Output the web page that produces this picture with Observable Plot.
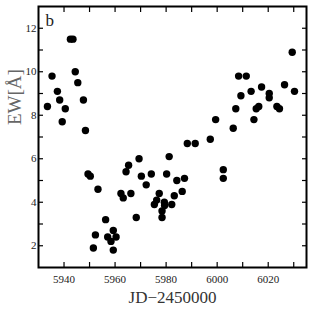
<!DOCTYPE html>
<html>
<head>
<meta charset="utf-8">
<script src="https://cdn.jsdelivr.net/npm/d3@7"></script>
<script src="https://cdn.jsdelivr.net/npm/@observablehq/plot@0.6"></script>
<style>
  html, body { margin: 0; padding: 0; background: #fff; }
  svg text { font-family: "Liberation Serif", "Times New Roman", Times, serif !important; }
</style>
</head>
<body>
<div id="chart"></div>
<script>
const jd = [5933.5, 5935.3, 5937.4, 5938.3, 5939.3, 5940.5, 5942.5, 5943.5, 5944.4, 5945.4,
  5947.6, 5948.4, 5949.4, 5950.3, 5951.5, 5952.3, 5953.3, 5956.3, 5957.1, 5958.4,
  5959.3, 5959.3, 5960.4, 5962.3, 5963.2, 5964.3, 5965.3, 5966.2, 5968.3, 5969.4,
  5970.3, 5972.2, 5974.2, 5975.4, 5976.3, 5977.3, 5978.4, 5978.4, 5979.3, 5979.4,
  5980.2, 5981.2, 5982.2, 5983.2, 5984.2, 5986.3, 5987.2, 5988.3, 5991.4, 5997.3,
  5999.4, 6002.4, 6002.4, 6006.3, 6007.3, 6008.4, 6009.3, 6011.4, 6013.3, 6014.4,
  6015.3, 6016.3, 6017.4, 6020.4, 6020.4, 6023.4, 6024.4, 6026.4, 6029.4, 6030.3];
const ew = [8.4, 9.8, 9.1, 8.7, 7.7, 8.3, 11.5, 11.5, 10.0, 9.5,
  8.7, 7.3, 5.3, 5.2, 1.9, 2.5, 4.6, 3.2, 2.4, 2.2,
  2.7, 1.8, 2.4, 4.4, 4.2, 5.4, 5.7, 4.4, 3.3, 6.0,
  5.2, 4.8, 5.3, 3.9, 4.1, 4.4, 3.6, 3.3, 4.0, 3.85,
  5.3, 6.1, 3.9, 4.3, 5.0, 4.5, 5.1, 6.7, 6.7, 6.9,
  7.8, 5.5, 5.1, 7.4, 8.3, 9.8, 8.9, 9.8, 9.1, 7.8,
  8.3, 8.4, 9.3, 9.0, 8.8, 8.4, 8.3, 9.4, 10.9, 9.1];
const xTicksMinor = [5930, 5940, 5950, 5960, 5970, 5980, 5990, 6000, 6010, 6020, 6030];
const xTickLabels = [5940, 5960, 5980, 6000, 6020];
const yTicksMinor = [1, 2, 3, 4, 5, 6, 7, 8, 9, 10, 11, 12, 13];
const yTickLabels = [2, 4, 6, 8, 10, 12];
const xLabel = "JD\u22122450000";
const yLabel = "EW[\u00C5]";
const panelLabel = "b";

const data = jd.map((x, i) => ({x, y: ew[i]}));
const font = "'Liberation Serif', 'Times New Roman', Times, serif";
const blank = () => "";

const chart = Plot.plot({
  width: 311,
  height: 311,
  marginLeft: 38,
  marginRight: 5,
  marginTop: 6,
  marginBottom: 44,
  style: {fontFamily: font, background: "#fff"},
  x: {domain: [5930, 6035]},
  y: {domain: [1, 13]},
  marks: [
    Plot.dot(data, {x: "x", y: "y", r: 3.7, fill: "#000", stroke: "none"}),
    Plot.axisX(xTicksMinor.filter(d => d > 5930), {anchor: "bottom", tickSize: -5, strokeWidth: 1.2, tickFormat: blank, label: null}),
    Plot.axisX(xTicksMinor.filter(d => d > 5930), {anchor: "top", tickSize: -5, strokeWidth: 1.2, tickFormat: blank, label: null}),
    Plot.axisX(xTickLabels, {anchor: "bottom", tickSize: 0, tickPadding: 8, fontSize: 11, fill: "#222", label: null, tickFormat: d => String(d)}),
    Plot.axisY(yTicksMinor.filter(d => d > 1 && d < 13), {anchor: "left", tickSize: -5, strokeWidth: 1.2, tickFormat: blank, label: null}),
    Plot.axisY(yTicksMinor.filter(d => d > 1 && d < 13), {anchor: "right", tickSize: -5, strokeWidth: 1.2, tickFormat: blank, label: null}),
    Plot.axisY(yTickLabels, {anchor: "left", tickSize: 0, tickPadding: 2, fontSize: 11, fill: "#222", label: null, tickFormat: d => String(d)}),
    Plot.frame({stroke: "#000", strokeWidth: 2}),
    Plot.text([xLabel], {frameAnchor: "bottom", dy: 30, lineAnchor: "middle", fontSize: 17, fill: "#333"}),
    Plot.text([yLabel], {frameAnchor: "left", rotate: -90, dx: -24, dy: -12, lineAnchor: "middle", fontSize: 19, fill: "#666"}),
    Plot.text([panelLabel], {frameAnchor: "top-left", dx: 7, dy: 14, textAnchor: "start", lineAnchor: "middle", fontSize: 17, fill: "#222"})
  ]
});
document.getElementById("chart").appendChild(chart);
</script>
</body>
</html>
